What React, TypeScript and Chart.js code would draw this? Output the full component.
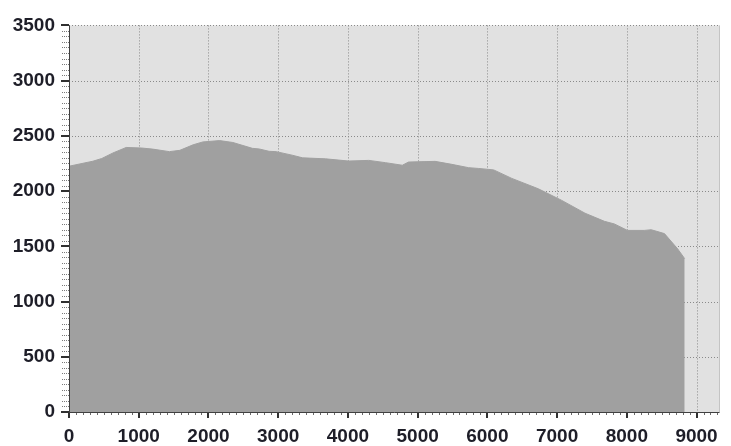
import React, { useEffect, useRef } from "react";
import { Chart, registerables } from "chart.js";

Chart.register(...registerables);

const distance = [0, 340, 470, 630, 820, 1040, 1200, 1440, 1590, 1780, 1920, 2160, 2350, 2630, 2730, 2870, 2970, 3200, 3350, 3680, 4010, 4300, 4540, 4780, 4870, 5250, 5490, 5730, 5870, 6090, 6350, 6730, 7060, 7400, 7680, 7820, 8010, 8250, 8350, 8540, 8730, 8830];
const elevation = [2225, 2270, 2295, 2345, 2395, 2390, 2380, 2357, 2369, 2419, 2445, 2457, 2440, 2387, 2381, 2360, 2357, 2325, 2301, 2292, 2272, 2278, 2257, 2234, 2263, 2269, 2242, 2212, 2205, 2192, 2115, 2021, 1918, 1800, 1726, 1703, 1644, 1644, 1650, 1615, 1476, 1388];

const xTickValues = [0, 1000, 2000, 3000, 4000, 5000, 6000, 7000, 8000, 9000];
const yTickValues = [0, 500, 1000, 1500, 2000, 2500, 3000, 3500];
const xMax = 9330;
const yMax = 3500;
const xMinorStep = 100;
const yMinorStep = 50;

const decor = {
  id: "decor",
  beforeDatasetsDraw(chart: any) {
    const { ctx, chartArea: a, scales } = chart;
    const x = scales.x, y = scales.y;
    ctx.save();
    ctx.fillStyle = "#e1e1e1";
    ctx.fillRect(a.left, a.top, a.right - a.left, a.bottom - a.top);
    ctx.strokeStyle = "#8a8a8a";
    ctx.lineWidth = 1;
    ctx.setLineDash([1, 2]);
    for (const v of xTickValues) {
      const px = Math.round(x.getPixelForValue(v)) + 0.5;
      ctx.beginPath(); ctx.moveTo(px, a.top); ctx.lineTo(px, a.bottom); ctx.stroke();
    }
    for (const v of yTickValues) {
      const py = Math.round(y.getPixelForValue(v)) + 0.5;
      ctx.beginPath(); ctx.moveTo(a.left, py); ctx.lineTo(a.right, py); ctx.stroke();
    }
    ctx.restore();
  },
  afterDatasetsDraw(chart: any) {
    const { ctx, chartArea: a, scales } = chart;
    const x = scales.x, y = scales.y;
    ctx.save();
    ctx.strokeStyle = "#c4c4c4";
    ctx.lineWidth = 1;
    ctx.beginPath(); ctx.moveTo(Math.round(a.right) - 0.5, a.top); ctx.lineTo(Math.round(a.right) - 0.5, a.bottom); ctx.stroke();
    ctx.strokeStyle = "#7a7a7a";
    ctx.setLineDash([1, 1]);
    for (let v = 0; v <= yMax; v += yMinorStep) {
      if (v % 500 === 0) continue;
      const py = Math.round(y.getPixelForValue(v)) + 0.5;
      ctx.beginPath(); ctx.moveTo(a.left - 7, py); ctx.lineTo(a.left, py); ctx.stroke();
    }
    ctx.setLineDash([]);
    ctx.fillStyle = "#6a6a6a";
    for (let v = 0; v <= xMax; v += xMinorStep) {
      if (v % 1000 === 0) continue;
      const px = Math.round(x.getPixelForValue(v));
      ctx.fillRect(px, Math.round(a.bottom) + 1, 1, 2);
    }
    ctx.strokeStyle = "#303030";
    ctx.lineWidth = 2;
    for (const v of yTickValues) {
      const py = Math.round(y.getPixelForValue(v));
      ctx.beginPath(); ctx.moveTo(a.left - 8, py); ctx.lineTo(a.left, py); ctx.stroke();
    }
    for (const v of xTickValues) {
      const px = Math.round(x.getPixelForValue(v));
      ctx.beginPath(); ctx.moveTo(px, a.bottom); ctx.lineTo(px, a.bottom + 6); ctx.stroke();
    }
    ctx.lineWidth = 1;
    ctx.strokeStyle = "#404040";
    ctx.beginPath(); ctx.moveTo(Math.round(a.left) + 0.5, a.top); ctx.lineTo(Math.round(a.left) + 0.5, a.bottom + 1); ctx.stroke();
    ctx.beginPath(); ctx.moveTo(a.left, Math.round(a.bottom) + 0.5); ctx.lineTo(a.right, Math.round(a.bottom) + 0.5); ctx.stroke();
    ctx.restore();
  },
};

export default function App() {
  const ref = useRef<HTMLCanvasElement | null>(null);
  useEffect(() => {
    document.body.style.margin = "0";
    const font = { family: "'Liberation Sans Narrow', 'Liberation Sans', Arial, sans-serif", size: 19, weight: "bold" as const };
    const chart = new Chart(ref.current!, {
      type: "line",
      data: {
        datasets: [
          {
            data: distance.map((d, i) => ({ x: d, y: elevation[i] })),
            fill: "origin",
            backgroundColor: "#a0a0a0",
            borderColor: "#a0a0a0",
            borderWidth: 1,
            pointRadius: 0,
            tension: 0,
          },
        ],
      },
      options: {
        animation: false,
        responsive: false,
        events: [],
        layout: { padding: { top: 16, right: 9, left: 0, bottom: 0 } },
        plugins: { legend: { display: false }, tooltip: { enabled: false } },
        scales: {
          x: {
            type: "linear",
            min: 0,
            max: xMax,
            grid: { display: false, drawTicks: false },
            border: { display: false },
            afterBuildTicks: (s: any) => {
              s.ticks = xTickValues.map((v) => ({ value: v }));
            },
            afterFit: (s: any) => {
              s.height = 34;
            },
            ticks: { color: "#1e1e28", font, padding: 13, maxRotation: 0, autoSkip: false, callback: (v: any) => String(v) },
          },
          y: {
            type: "linear",
            min: 0,
            max: yMax,
            grid: { display: false, drawTicks: false },
            border: { display: false },
            afterBuildTicks: (s: any) => {
              s.ticks = yTickValues.map((v) => ({ value: v }));
            },
            afterFit: (s: any) => {
              s.width = 69;
            },
            ticks: { color: "#1e1e28", font, padding: 14, callback: (v: any) => String(v) },
          },
        },
      },
      plugins: [decor],
    });
    return () => chart.destroy();
  }, []);
  return (
    <div style={{ width: 731, height: 446 }}>
      <canvas ref={ref} width={731} height={446} />
    </div>
  );
}
